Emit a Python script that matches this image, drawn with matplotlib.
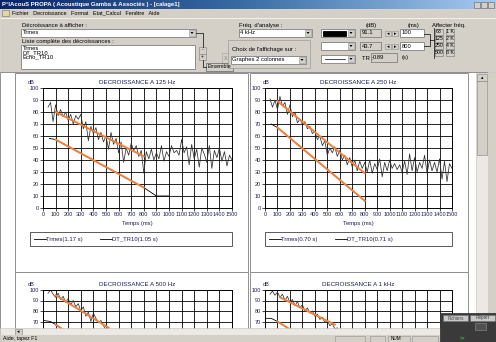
import numpy as np
import matplotlib.pyplot as plt
from matplotlib.colors import LinearSegmentedColormap

plt.rcParams['font.family'] = ['Liberation Sans', 'DejaVu Sans']

# ---------------- data ----------------
t_start, t_step = 40, 20          # ms, sampling of the measured decays

trmes_125 = [84, 88, 72, 86, 77, 82, 76, 80, 73, 78, 70, 77, 74, 78, 66, 72,
             56, 68, 62, 67, 57, 63, 55, 60, 49, 63, 53, 58, 46, 55, 38, 50,
             44, 54, 48, 52, 43, 48, 29, 47, 41, 49, 40, 46, 41, 52, 39, 47,
             43, 52, 46, 48, 44, 57, 46, 51, 36, 53, 41, 49, 34, 50, 45, 38,
             52, 33, 48, 42, 50, 39, 47, 35, 44, 40]
trmes_250 = [91, 84, 90, 82, 93, 85, 88, 78, 86, 76, 80, 71, 74, 70, 72, 66,
             68, 62, 64, 57, 60, 52, 56, 44, 50, 46, 51, 43, 48, 40, 44, 36,
             42, 34, 40, 31, 39, 33, 38, 30, 40, 29, 37, 32, 41, 26, 38, 31,
             40, 33, 37, 32, 36, 30, 39, 28, 45, 31, 42, 30, 38, 33, 44, 29,
             40, 31, 38, 30, 41, 24, 39, 22, 37, 33]
trmes_500 = [97, 100, 96, 93, 97, 91, 94, 88, 92, 86, 90, 84, 87, 80, 84, 75,
             79, 70, 78, 73, 69, 71, 66, 62, 64, 58, 60, 54, 55, 50]
trmes_1k = [96, 99, 95, 98, 93, 96, 90, 94, 88, 91, 85, 89, 83, 86, 80, 83,
            78, 80, 75, 77, 72, 74, 69, 71, 66, 68, 63, 64, 60, 61]

# orange regression on the measured decay
fit_t_125, fit_v_125 = [100, 800], [80, 43]
fit_t_250, fit_v_250 = [100, 800], [89, 29]
fit_t_500, fit_v_500 = [100, 520], [95, 64]
fit_t_1k, fit_v_1k = [120, 560], [93, 67]

# DT_TR10 synthetic decay (black) and its fitted part (orange)
dt_t_125, dt_v_125 = [50, 100, 800, 900, 1000], [58, 57, 17, 10, 10]
dt_t_250, dt_v_250 = [50, 100, 800], [70, 67, 6]
dt_t_500, dt_v_500 = [0, 60, 100, 700], [71, 70, 67, 20]
dt_t_1k, dt_v_1k = [0, 50, 100, 700], [73, 73, 70, 25]
dtfit_t_125, dtfit_v_125 = [100, 800], [57, 17]
dtfit_t_250, dtfit_v_250 = [100, 800], [67, 6]
dtfit_t_500, dtfit_v_500 = [100, 700], [67, 20]
dtfit_t_1k, dtfit_v_1k = [100, 700], [70, 25]
floor_t_250, floor_v_250 = [800, 1000], [10, 10]

titles = ['DECROISSANCE A 125 Hz', 'DECROISSANCE A 250 Hz',
          'DECROISSANCE A 500 Hz', 'DECROISSANCE A 1 kHz']
legend_tr = ['Trmes(1.17 s)', 'Trmes(0.70 s)']
legend_dt = ['DT_TR10(1.05 s)', 'DT_TR10(0.71 s)']
x_ticks = list(range(0, 1501, 100))
y_ticks = list(range(0, 101, 10))
decay_list = ['Trmes', 'DT_TR10', 'Echo_TR10']
freq_buttons = ['63', '125', '250', '500']
freq_buttons_k = ['1 K', '2 K', '4 K', '8 K']

# ---------------- figure ----------------
W, H = 496, 342
fig = plt.figure(figsize=(W / 100, H / 100), dpi=100)
GRAY = '#d4d0c8'
ORANGE = '#ee8040'
TXT = '#1e1e50'


def px_axes(x0, y0, x1, y1, z=0):
    ax = fig.add_axes([x0 / W, 1 - y1 / H, (x1 - x0) / W, (y1 - y0) / H])
    ax.set_zorder(z)
    return ax


def chrome_axes(z):
    ax = fig.add_axes([0, 0, 1, 1])
    ax.set_zorder(z)
    ax.set_xlim(0, W)
    ax.set_ylim(H, 0)
    ax.axis('off')
    ax.patch.set_alpha(0)
    return ax


def box(ax, x0, y0, x1, y1, fc='white', ec='#808080', lw=0.6):
    ax.add_patch(plt.Rectangle((x0, y0), x1 - x0, y1 - y0, fc=fc, ec=ec, lw=lw))


def txt(ax, x, y, s, size=4.2, **kw):
    kw.setdefault('va', 'center')
    ax.text(x, y, s, fontsize=size, **kw)


def combo(ax, x0, y0, x1, y1, s=''):
    box(ax, x0, y0, x1, y1)
    box(ax, x1 - 7, y0 + 1, x1 - 1, y1 - 1, fc=GRAY, ec='#909090', lw=0.4)
    ym = (y0 + y1) / 2
    ax.fill([x1 - 5.5, x1 - 2.5, x1 - 4], [ym - 1, ym - 1, ym + 1], color='black', lw=0)
    if s:
        txt(ax, x0 + 1.5, ym, s)


bg = chrome_axes(-1)
# title bar
cmap = LinearSegmentedColormap.from_list('tb', ['#0a246a', '#3a6ea5', '#a6caf0'])
bg.imshow(np.linspace(0, 1, 256)[None, :], extent=(0, W, 9, 0), cmap=cmap, aspect='auto')
bg.set_xlim(0, W)
bg.set_ylim(H, 0)
txt(bg, 2, 4.5, "P°lAcouS PROPA ( Acoustique Gamba & Associés ) - [calage1]",
    size=4.3, color='white', weight='bold')
for i in range(3):
    box(bg, 474 + i * 7, 1.5, 480 + i * 7, 7.5, fc=GRAY, ec='#606060', lw=0.4)
    box(bg, 474 + i * 7, 10.5, 480 + i * 7, 16, fc=GRAY, ec='#606060', lw=0.4)
# menu + controls area
box(bg, 0, 9, W, 72, fc=GRAY, ec=GRAY)
bg.add_patch(plt.Rectangle((2, 10), 7, 6, fc='#e0d8a0', ec='#707070', lw=0.4))
txt(bg, 12, 13, 'Fichier   Decroissance   Format   Etat_Calcul   Fenêtre   Aide', size=4.0)
bg.plot([0, W], [17.5, 17.5], color='white', lw=0.5)

txt(bg, 22, 25.5, 'Décroissance à afficher :')
combo(bg, 21, 29, 196, 37, 'Trmes')
txt(bg, 22, 42, 'Liste complète des décroissances :')
box(bg, 21, 45, 195, 69)
for i, s in enumerate(decay_list):
    txt(bg, 22.5, 48.5 + i * 4.3, s)
bg.plot([196, 203, 203], [33, 33, 47], color='black', lw=0.5)
box(bg, 199, 47, 206, 53.5, fc=GRAY, ec='#808080', lw=0.4)
box(bg, 199, 53.5, 206, 60, fc=GRAY, ec='#808080', lw=0.4)
txt(bg, 202.5, 50, '-', ha='center', size=3.5)
txt(bg, 202.5, 56.5, '+', ha='center', size=3.5)
box(bg, 222, 53, 230, 63, fc=GRAY, ec='#a0a0a0', lw=0.4)
txt(bg, 226, 58, 'X', ha='center', size=3.8, color='#808080')
bg.plot([203, 203, 206], [60, 67, 67], color='black', lw=0.5)
box(bg, 206, 63, 233, 71, fc=GRAY, ec='#606060', lw=0.5)
txt(bg, 219.5, 67, 'Ensemble', ha='center', size=3.8)

txt(bg, 239, 25.5, "Fréq. d'analyse :")
combo(bg, 239, 29, 312, 37, '4 kHz')
box(bg, 228, 40, 310, 68, fc=GRAY, ec='#909090', lw=0.4)
txt(bg, 232, 50, "Choix de l'affichage sur :")
combo(bg, 231, 56, 306, 64, 'Graphes 2 colonnes')

combo(bg, 321, 29, 355, 37)
box(bg, 323, 30.5, 346, 35.5, fc='black', ec='black')
combo(bg, 321, 42, 355, 50)
combo(bg, 321, 55, 355, 63)
bg.plot([325, 345], [59, 59], color='black', lw=0.5)

txt(bg, 366, 25, '(dB)')
txt(bg, 408, 25, '(ms)')
txt(bg, 432, 25, 'Affecter fréq.')
box(bg, 360, 29, 381, 37, fc=GRAY)
txt(bg, 362, 33, '91.1')
box(bg, 360, 42, 381, 50, fc=GRAY)
txt(bg, 362, 46, '43.7')
txt(bg, 362, 58, 'TR :')
box(bg, 371, 53, 397, 62, fc=GRAY)
txt(bg, 373, 57.5, '0.89')
txt(bg, 402, 58, '(s)')
for y in (30, 43):
    for j, s in enumerate(['◂', '▸']):
        box(bg, 385 + j * 7, y + 1, 391 + j * 7, y + 6, fc=GRAY, ec='#909090', lw=0.4)
        txt(bg, 388 + j * 7, y + 3.5, s, ha='center', size=3.5, family='DejaVu Sans')
box(bg, 400, 29, 424, 37)
txt(bg, 401.5, 33, '100')
box(bg, 400, 42, 424, 50)
txt(bg, 401.5, 46, '800')
bg.plot([424, 430, 430, 424], [34, 34, 46, 46], color='black', lw=0.5)
bg.plot([430, 434], [40, 40], color='black', lw=0.5)
bg.plot([434, 434], [28, 58], color='black', lw=0.5)
for i, (a, b) in enumerate(zip(freq_buttons, freq_buttons_k)):
    y = 28.5 + i * 7
    box(bg, 435, y, 443, y + 6.5, fc=GRAY, ec='#707070', lw=0.4)
    box(bg, 446, y, 454, y + 6.5, fc=GRAY, ec='#707070', lw=0.4)
    txt(bg, 439, y + 3.3, a, ha='center', size=3.8)
    txt(bg, 450, y + 3.3, b, ha='center', size=3.8)

# client area and panel frames
box(bg, 0, 72, W, H, fc='white', ec='#808080')
panels_px = [(15, 73, 248, 272), (250, 73, 468, 272),
             (15, 272, 248, 345), (250, 272, 468, 345)]
for x0, y0, x1, y1 in panels_px:
    box(bg, x0, y0, x1, y1, fc='white', ec='#909090', lw=0.7)

# ---------------- charts ----------------
panels = [
    dict(trmes=trmes_125, fit=(fit_t_125, fit_v_125), dt=(dt_t_125, dt_v_125),
         dtfit=(dtfit_t_125, dtfit_v_125), floor=None),
    dict(trmes=trmes_250, fit=(fit_t_250, fit_v_250), dt=(dt_t_250, dt_v_250),
         dtfit=(dtfit_t_250, dtfit_v_250), floor=(floor_t_250, floor_v_250)),
    dict(trmes=trmes_500, fit=(fit_t_500, fit_v_500), dt=(dt_t_500, dt_v_500),
         dtfit=(dtfit_t_500, dtfit_v_500), floor=None),
    dict(trmes=trmes_1k, fit=(fit_t_1k, fit_v_1k), dt=(dt_t_1k, dt_v_1k),
         dtfit=(dtfit_t_1k, dtfit_v_1k), floor=None),
]
axes_px = [(43, 88, 232, 208), (265, 88, 452, 208),
           (43, 290, 232, 395), (265, 290, 452, 395)]

for k, (p, (x0, y0, x1, y1)) in enumerate(zip(panels, axes_px)):
    ax = px_axes(x0, y0, x1, y1, z=1)
    t = np.arange(len(p['trmes'])) * t_step + t_start
    ax.plot(t, p['trmes'], color='#303030', lw=0.55)
    ax.plot(*p['dt'], color='black', lw=0.6)
    if p['floor'] is not None:
        ax.plot(*p['floor'], color='black', lw=0.8)
    ax.plot(*p['fit'], color=ORANGE, lw=1.4)
    ax.plot(*p['dtfit'], color=ORANGE, lw=1.4)
    ax.set_xlim(0, 1500)
    ax.set_ylim(0, 100)
    ax.set_xticks(x_ticks)
    if k < 2:
        ax.set_yticks(y_ticks)
    else:
        # lower half of these panels lies below the window edge
        ax.set_yticks(y_ticks, labels=[str(v) if v >= 70 else '' for v in y_ticks])
        ax.tick_params(labelbottom=False)
    ax.grid(True, color='black', lw=0.6)
    ax.tick_params(labelsize=4.0, labelcolor=TXT, length=2, width=0.5, pad=1)
    for s in ax.spines.values():
        s.set_linewidth(0.7)
    cx = (x0 + x1) / 2
    px0 = panels_px[k][0]
    txt(bg, cx, y0 - 6, titles[k], size=4.5, ha='center', color=TXT)
    txt(bg, px0 + 13, y0 - 5, 'dB', size=4.0, color=TXT)
    if k < 2:
        txt(bg, cx, 223.5, 'Temps (ms)', size=4.2, ha='center', color=TXT)
        lx0 = x0 - 13 if k == 0 else x0
        box(bg, lx0, 232, x1, 246, fc='white', ec='#404040', lw=0.6)
        bg.plot([lx0 + 4, lx0 + 16], [239, 239], color='black', lw=0.6)
        txt(bg, lx0 + 16, 239, legend_tr[k], size=4.2, color=TXT)
        bg.plot([lx0 + 70, lx0 + 82], [239, 239], color='black', lw=0.6)
        txt(bg, lx0 + 82, 239, legend_dt[k], size=4.2, color=TXT)

# ---------------- scrollbars / status bar (on top) ----------------
top = chrome_axes(5)
box(top, 476, 73, 488, 330, fc='#ece9e4', ec='#c0c0c0', lw=0.4)
box(top, 477, 74, 487, 81, fc=GRAY, ec='#808080', lw=0.4)
txt(top, 482, 77.5, '▴', ha='center', size=3.5, family='DejaVu Sans')
box(top, 477, 81, 487, 155, fc=GRAY, ec='#808080', lw=0.4)
box(top, 488, 72, W, H, fc=GRAY, ec=GRAY)
box(top, 0, 328, 488, 335, fc='#ece9e4', ec='#c0c0c0', lw=0.4)
box(top, 15, 328.5, 22, 334.5, fc=GRAY, ec='#808080', lw=0.4)
txt(top, 18.5, 331.5, '◂', ha='center', size=3.5, family='DejaVu Sans')
box(top, 0, 335, W, H, fc=GRAY, ec=GRAY)
txt(top, 3, 338.5, 'Aide, tapez F1', size=3.8)
box(top, 335, 336, 365, 342, fc=GRAY, ec='#909090', lw=0.4)
box(top, 370, 336, 385, 342, fc=GRAY, ec='#909090', lw=0.4)
box(top, 388, 336, 410, 342, fc=GRAY, ec='#909090', lw=0.4)
txt(top, 391, 338.5, 'NUM', size=3.3)
box(top, 412, 336, 438, 342, fc=GRAY, ec='#909090', lw=0.4)
# dark floating toolbar in the corner
box(top, 440, 313, W, H, fc='#3a3a3a', ec='#3a3a3a')
box(top, 443, 315, 468, 321, fc='#c8c8c8', ec='#707070', lw=0.4)
box(top, 470, 315, 495, 321, fc='#c8c8c8', ec='#707070', lw=0.4)
txt(top, 455.5, 318, 'Fichiers', ha='center', size=3.3, color='#404040')
txt(top, 482.5, 318, 'Répert', ha='center', size=3.3, color='#404040')
box(top, 475, 323, 486, 330, fc='#505050', ec='#909090', lw=0.4)
txt(top, 460, 338.5, '>>', size=3.3, color='#30c030', weight='bold')

fig.savefig('out.png', dpi=100)
